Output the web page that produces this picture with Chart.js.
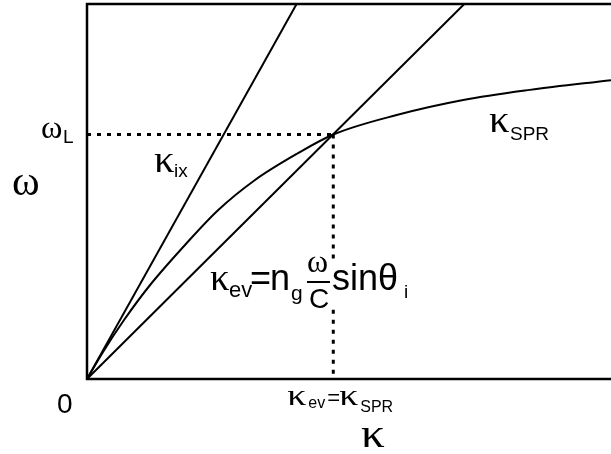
<!DOCTYPE html>
<html>
<head>
<meta charset="utf-8">
<title>Dispersion</title>
<script src="https://cdn.jsdelivr.net/npm/chart.js@4.4.1/dist/chart.umd.min.js"></script>
<style>
  html, body { margin: 0; padding: 0; background: #fff; }
  canvas { display: block; }
</style>
</head>
<body>
<canvas id="dispersionChart" width="611" height="454"></canvas>
<script>
// wave vector (x) and frequency (y) in arbitrary units
const lightLineK = [0, 4.0];
const lightLineW = [0, 10];

const evLineK = [0, 7.2];
const evLineW = [0, 10];

const sprK = [0, 0.3, 0.7, 1.2, 1.9, 2.5, 3.2, 4.0, 4.70, 5.91, 7.18, 8.45, 10];
const sprW = [0, 0.71, 1.56, 2.50, 3.62, 4.50, 5.30, 6.00, 6.52, 7.04, 7.44, 7.71, 7.97];

// crossing point of the evanescent line with the SPR curve
const kCross = 4.70;
const omegaL = 6.52;
// gap in the vertical guide where the formula sits
const guideGap = [3.2, 1.85];

const SERIF = '"Liberation Serif", "DejaVu Serif", serif';
const SANS = '"Liberation Sans", Arial, sans-serif';

function toPoints(xs, ys) {
    return xs.map((x, i) => ({ x: x, y: ys[i] }));
}

const lineStyle = {
    borderColor: '#000',
    borderWidth: 2,
    pointRadius: 0,
    fill: false
};

const dotStyle = {
    borderColor: '#000',
    borderWidth: 3,
    borderDash: [4, 6],
    pointRadius: 0,
    fill: false,
    spanGaps: false
};

// frame: left, top and bottom edges only
const framePlugin = {
    id: 'frame',
    afterDatasetsDraw(chart) {
        const { ctx, chartArea: a } = chart;
        ctx.save();
        ctx.strokeStyle = '#000';
        ctx.lineWidth = 2.5;
        ctx.beginPath();
        ctx.moveTo(a.right + 2, a.top);
        ctx.lineTo(a.left, a.top);
        ctx.lineTo(a.left, a.bottom);
        ctx.lineTo(a.right + 2, a.bottom);
        ctx.stroke();
        ctx.restore();
    }
};

// text with optional horizontal stretch (greek letters run a bit wide)
function put(ctx, text, font, x, y, sx) {
    ctx.save();
    ctx.font = font;
    ctx.translate(x, y);
    ctx.scale(sx || 1, 1);
    ctx.fillText(text, 0, 0);
    ctx.restore();
}

const labelPlugin = {
    id: 'labels',
    afterDraw(chart) {
        const { ctx, chartArea: a } = chart;
        const xs = chart.scales.x;
        const ys = chart.scales.y;
        ctx.save();
        ctx.fillStyle = '#000';
        ctx.textBaseline = 'alphabetic';
        ctx.textAlign = 'left';

        // omega_L tick label
        const yL = ys.getPixelForValue(omegaL);
        put(ctx, 'ω', '31px ' + SERIF, a.left - 46, yL + 3, 1.05);
        put(ctx, 'L', '19px ' + SANS, a.left - 24, yL + 8);

        // axis titles and origin
        put(ctx, 'ω', '42px ' + SERIF, a.left - 75, 195);
        put(ctx, '0', '28px ' + SANS, a.left - 30, a.bottom + 34);
        put(ctx, 'κ', '41px ' + SERIF, 361, 447, 1.15);

        // kappa_ev = kappa_SPR under the crossing point
        const xc = xs.getPixelForValue(kCross);
        put(ctx, 'κ', '29px ' + SERIF, xc - 46, a.bottom + 26, 1.3);
        put(ctx, 'ev', '16px ' + SANS, xc - 25, a.bottom + 29);
        put(ctx, '=', '22px ' + SANS, xc - 6, a.bottom + 26);
        put(ctx, 'κ', '29px ' + SERIF, xc + 6, a.bottom + 26, 1.3);
        put(ctx, 'SPR', '16px ' + SANS, xc + 27, a.bottom + 33);

        // curve names
        put(ctx, 'κ', '37px ' + SERIF, 154, 172, 1.1);
        put(ctx, 'ix', '19px ' + SANS, 174, 177);
        put(ctx, 'κ', '37px ' + SERIF, 489, 132, 1.1);
        put(ctx, 'SPR', '19px ' + SANS, 510, 140);

        // kappa_ev = n_g (omega / c) sin(theta_i)
        put(ctx, 'κ', '37px ' + SERIF, 210, 290, 1.05);
        put(ctx, 'ev', '22px ' + SANS, 229, 297);
        put(ctx, '=', '36px ' + SANS, 250, 290);
        put(ctx, 'n', '36px ' + SANS, 270, 290);
        put(ctx, 'g', '21px ' + SANS, 291, 300);
        put(ctx, 'ω', '32px ' + SERIF, 307, 272);
        ctx.fillRect(307, 281, 23, 2);
        put(ctx, 'C', '28px ' + SANS, 309, 308);
        put(ctx, 'sinθ', '36px ' + SANS, 332, 290);
        put(ctx, 'i', '19px ' + SANS, 404, 298);

        ctx.restore();
    }
};

const ctx = document.getElementById('dispersionChart');

new Chart(ctx, {
    type: 'line',
    data: {
        datasets: [{
            label: 'light line',
            data: toPoints(lightLineK, lightLineW),
            ...lineStyle
        }, {
            label: 'evanescent',
            data: toPoints(evLineK, evLineW),
            ...lineStyle
        }, {
            label: 'SPR',
            data: toPoints(sprK, sprW),
            cubicInterpolationMode: 'monotone',
            ...lineStyle
        }, {
            label: 'omega_L guide',
            data: [{ x: 0, y: omegaL }, { x: kCross, y: omegaL }],
            ...dotStyle
        }, {
            label: 'k guide',
            data: [
                { x: kCross, y: omegaL },
                { x: kCross, y: guideGap[0] },
                { x: kCross, y: null },
                { x: kCross, y: guideGap[1] },
                { x: kCross, y: 0 }
            ],
            ...dotStyle
        }]
    },
    options: {
        responsive: false,
        animation: false,
        devicePixelRatio: 1,
        layout: {
            padding: { left: 87, top: 4, right: 0, bottom: 75 }
        },
        plugins: {
            legend: { display: false },
            tooltip: { enabled: false }
        },
        scales: {
            x: { type: 'linear', min: 0, max: 10, display: false },
            y: { type: 'linear', min: 0, max: 10, display: false }
        }
    },
    plugins: [framePlugin, labelPlugin]
});
</script>
</body>
</html>
